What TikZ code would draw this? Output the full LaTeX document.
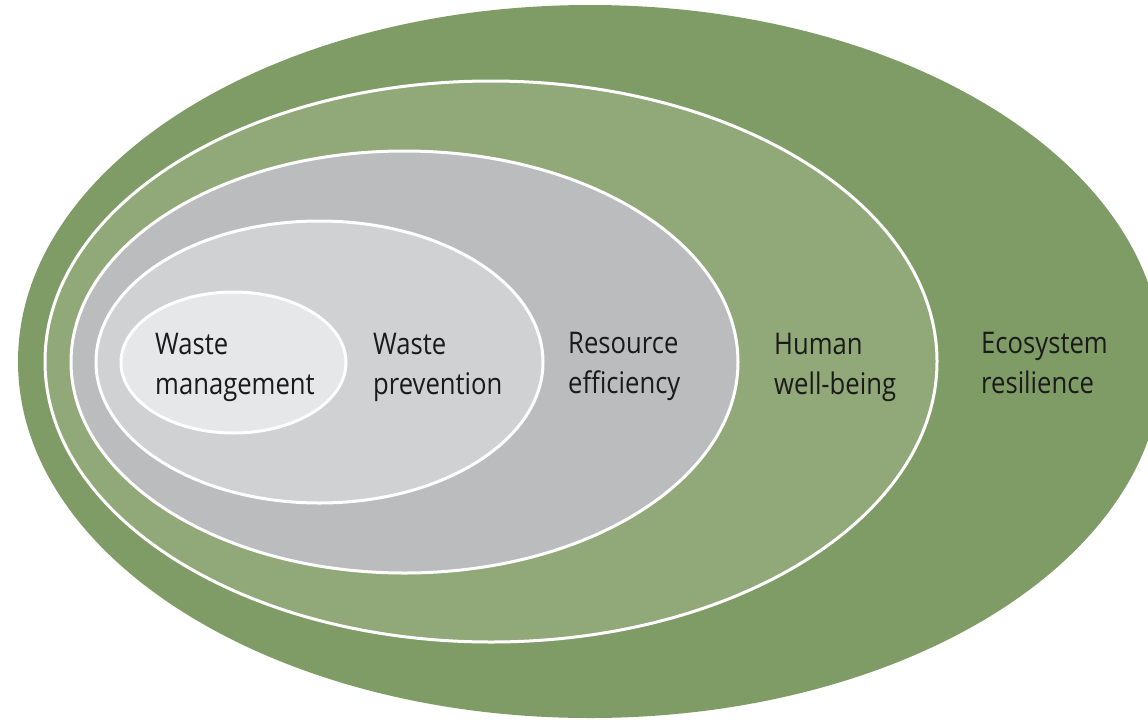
\documentclass[tikz,border=0pt]{standalone}
\usepackage{fontspec}
\setmainfont{Open Sans}[FakeStretch=0.86]
\definecolor{ecogreen}{HTML}{809C66}
\definecolor{humangreen}{HTML}{91A878}
\definecolor{resgray}{HTML}{BBBCBE}
\definecolor{prevgray}{HTML}{D0D1D3}
\definecolor{mangray}{HTML}{E6E7E8}
\definecolor{txt}{HTML}{1A1A1A}
\tikzset{
  ring/.style={draw=white, line width=3pt},
  lbl/.style={anchor=base west, inner sep=0pt, align=left, text=txt,
    font=\fontsize{29.8pt}{40pt}\selectfont}
}
\begin{document}
\begin{tikzpicture}[x=1pt,y=-1pt]
\useasboundingbox (0,0) rectangle (1148,721);
\clip (0,0) rectangle (1148,721);
\fill[white] (0,0) rectangle (1148,721);
\fill[ecogreen] (590,361.5) ellipse [x radius=572pt, y radius=356.5pt];
\filldraw[ring, fill=humangreen] (491,361.5) ellipse [x radius=446pt, y radius=280.5pt];
\filldraw[ring, fill=resgray] (404.5,362) ellipse [x radius=333.5pt, y radius=211pt];
\filldraw[ring, fill=prevgray] (319.5,362) ellipse [x radius=223.5pt, y radius=141pt];
\filldraw[ring, fill=mangray] (233.5,362.5) ellipse [x radius=112.5pt, y radius=70.5pt];
\node[lbl] (wm) at (155,394) {Waste\\management};
\node[lbl] (wp) at (373,394) {Waste\\prevention};
\node[lbl] (re) at (568,393) {Resource\\efficiency};
\node[lbl] (hw) at (774,394) {Human\\well-being};
\node[lbl] (er) at (981,393) {Ecosystem\\resilience};
\end{tikzpicture}
\end{document}
